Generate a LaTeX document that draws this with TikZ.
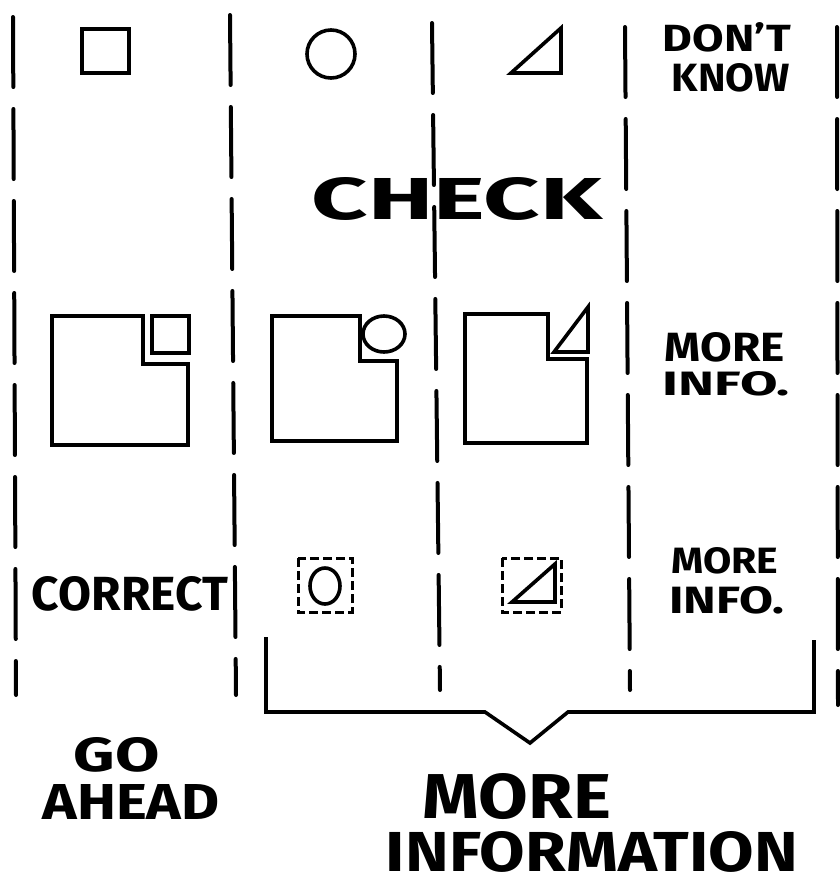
\documentclass[tikz,border=0pt]{standalone}
\usepackage{fontspec}
\setmainfont{Fira Sans}
\usepackage{graphicx}
\usetikzlibrary{
  calc,        % 坐标计算
  positioning  % 节点相对定位
}

\tikzset{
  colline/.style={line width=4pt, line cap=round, dash pattern=on 70pt off 22pt},
  figline/.style={line width=3.6pt, line join=miter},
  dashbox/.style={line width=3pt, dash pattern=on 9pt off 4pt},
  hand/.style={inner sep=0pt, font=\bfseries}
}
% 手写体文字：宽 #1、高 #2（单位 pt）
\newcommand{\handw}[3]{\resizebox{#1pt}{#2pt}{#3}}

\begin{document}
\begin{tikzpicture}[x=1pt, y=-1pt]
  \useasboundingbox (0,0) rectangle (840,884);

  % 1. 分栏的竖直虚线
  \draw[colline] (13,17) -- (16,695);
  \draw[colline] (230,15) -- (236,695);
  \draw[colline] (432,23) -- (440,690);
  \draw[colline] (625,27) -- (630,690);
  \draw[colline] (837,27) -- (838,705);

  % 2. 第一行：方、圆、三角与 DON'T KNOW
  \draw[figline] (82,29) rectangle (129,73);
  \draw[figline] (331,54) ellipse (24pt and 24pt);
  \draw[figline] (511,73) -- (561,73) -- (561,28) -- cycle;
  \node[hand] (dont) at (727,37) {\handw{128}{29}{DON'T}};
  \node[hand] (know) at (731,78) {\handw{118}{28}{KNOW}};

  % 3. 中间的 CHECK
  \node[hand] (check) at (457,199) {\handw{290}{42}{CHECK}};

  % 4. 第二行：缺角的大方块，角上放小图形
  \draw[figline] (52,316) -- (143,316) -- (143,364) -- (188,364)
                 -- (188,445) -- (52,445) -- cycle;
  \draw[figline] (152,316) rectangle (189,353);

  \draw[figline] (272,316) -- (360,316) -- (360,361) -- (397,361)
                 -- (397,441) -- (272,441) -- cycle;
  \draw[figline] (384,334) ellipse (21pt and 18pt);

  \draw[figline] (465,314) -- (548,314) -- (548,359) -- (587,359)
                 -- (587,443) -- (465,443) -- cycle;
  \draw[figline] (554,352) -- (588,352) -- (588,307) -- cycle;

  \node[hand] (moreA) at (725,347) {\handw{120}{29}{MORE}};
  \node[hand] (infoA) at (726,384) {\handw{127}{24}{INFO.}};

  % 5. 第三行：CORRECT 与虚线框
  \node[hand] (correct) at (130,594) {\handw{196}{34}{CORRECT}};

  \draw[dashbox] (298,558) rectangle (352,612);
  \draw[figline] (325,586) ellipse (15pt and 18pt);

  \draw[dashbox] (502,558) rectangle (561,612);
  \draw[figline] (512,602) -- (555,602) -- (555,564) -- cycle;

  \node[hand] (moreB) at (725,561) {\handw{107}{26}{MORE}};
  \node[hand] (infoB) at (727,600) {\handw{115}{27}{INFO.}};

  % 6. 大括号（带 V 形尖）
  \coordinate (BL) at (266,637);
  \coordinate (BR) at (814,640);
  \coordinate (Vtip) at (530,743);
  \draw[figline] (BL) -- (266,712) -- (485,712) -- (Vtip) -- (568,712)
                 -- (814,712) -- (BR);

  % 7. 底部结论
  \node[hand] (go) at (117,755) {\handw{86}{34}{GO}};
  \node[hand] (ahead) at (131,802) {\handw{177}{35}{AHEAD}};
  \node[hand] (moreC) at (517,797) {\handw{188}{45}{MORE}};
  \node[hand] (information) at (592,852) {\handw{412}{40}{INFORMATION}};

\end{tikzpicture}
\end{document}
